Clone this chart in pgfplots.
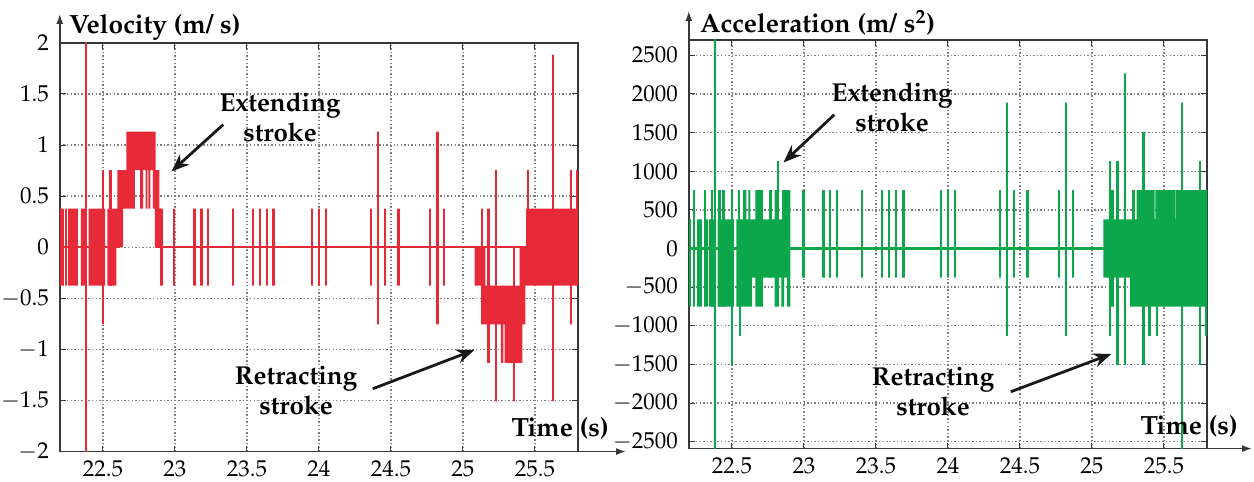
\documentclass[border=0pt]{standalone}
\usepackage[T1]{fontenc}
\usepackage{mathpazo}
\usepackage{pgfplots}
\pgfplotsset{compat=1.18}
\usetikzlibrary{arrows.meta}
\definecolor{vred}{RGB}{231,41,56}
\definecolor{agreen}{RGB}{12,166,75}
\definecolor{axgray}{RGB}{55,55,55}
\pgfplotsset{
  mystyle/.style={
    scale only axis, width=260pt, height=205pt,
    xmin=22.2, xmax=25.8,
    xtick={22.5,23,23.5,24,24.5,25,25.5},
    axis line style={line width=0.9pt, axgray},
    tick style={line width=0.5pt, axgray},
    major tick length=3pt,
    tick align=inside,
    tick label style={font=\fontsize{11.5}{13}\selectfont},
    yticklabel style={inner xsep=0.5pt, xshift=-4.8pt},
    xticklabel style={inner ysep=0.5pt, yshift=-4pt},
    /pgf/number format/1000 sep={},
    scaled ticks=false,
    unbounded coords=jump,
    clip=true,
    xmajorgrids=true, ymajorgrids=true,
    major grid style={dash pattern=on 0.7pt off 1.1pt, line width=0.7pt, black!50},
  }
}
\pgfplotstableread{
x y
22.346 -0.377
22.380 -0.377
22.380 0.377
22.346 0.377
nan nan
22.400 -0.377
22.515 -0.377
22.515 0.377
22.400 0.377
nan nan
22.530 -0.377
22.594 -0.377
22.594 0.377
22.530 0.377
nan nan
22.594 0
22.640 0
22.640 0.377
22.594 0.377
nan nan
22.600 0.377
22.721 0.377
22.721 0.754
22.600 0.754
nan nan
22.663 0.754
22.866 0.754
22.866 1.131
22.663 1.131
nan nan
22.758 0.377
22.779 0.377
22.779 0.754
22.758 0.754
nan nan
22.797 0.377
22.808 0.377
22.808 0.754
22.797 0.754
nan nan
22.815 0.377
22.829 0.377
22.829 0.754
22.815 0.754
nan nan
22.846 0.377
22.892 0.377
22.892 0.754
22.846 0.754
nan nan
22.860 0
22.908 0
22.908 0.377
22.860 0.377
nan nan
25.082 0
25.156 0
25.156 -0.377
25.082 -0.377
nan nan
25.126 -0.377
25.434 -0.377
25.434 -0.754
25.126 -0.754
nan nan
25.263 -0.754
25.280 -0.754
25.280 -1.131
25.263 -1.131
nan nan
25.290 -0.754
25.412 -0.754
25.412 -1.131
25.290 -1.131
nan nan
25.394 0
25.445 0
25.445 -0.377
25.394 -0.377
nan nan
25.438 0.377
25.800 0.377
25.800 -0.377
25.438 -0.377
}\velfill
\pgfplotstableread{
x y
22.200 0
22.209 0
22.209 0.377
22.209 -0.377
22.209 0
22.223 0
22.223 0.377
22.223 -0.377
22.223 0
22.242 0
22.242 0.377
22.242 -0.377
22.242 0
22.267 0
22.267 0.377
22.267 -0.377
22.267 0
22.281 0
22.281 0.377
22.281 -0.377
22.281 0
22.302 0
22.302 0.377
22.302 -0.377
22.302 0
22.320 0
22.320 0.377
22.320 -0.377
22.320 0
22.383 0
22.383 2.5
22.383 -2.5
22.383 0
22.501 0
22.501 0.754
22.501 -0.754
22.501 0
22.552 0
22.552 0.754
22.552 -0.377
22.552 0
22.620 0
nan nan
22.862 0
22.906 0
22.906 0.377
22.906 -0.377
22.906 0
22.994 0
22.994 0.377
22.994 -0.377
22.994 0
23.137 0
23.137 0.377
23.137 -0.377
23.137 0
23.184 0
23.184 0.377
23.184 -0.377
23.184 0
23.230 0
23.230 0.377
23.230 -0.377
23.230 0
23.404 0
23.404 0.377
23.404 -0.377
23.404 0
23.543 0
23.543 0.377
23.543 -0.377
23.543 0
23.589 0
23.589 0.377
23.589 -0.377
23.589 0
23.640 0
23.640 0.377
23.640 -0.377
23.640 0
23.686 0
23.686 0.377
23.686 -0.377
23.686 0
23.952 0
23.952 0.377
23.952 -0.377
23.952 0
24.000 0
24.000 0.377
24.000 -0.377
24.000 0
24.049 0
24.049 0.377
24.049 -0.377
24.049 0
24.362 0
24.362 0.377
24.362 -0.377
24.362 0
24.410 0
24.410 1.131
24.410 -0.754
24.410 0
24.459 0
24.459 0.377
24.459 -0.377
24.459 0
24.554 0
24.554 0.377
24.554 -0.377
24.554 0
24.772 0
24.772 0.377
24.772 -0.377
24.772 0
24.822 0
24.822 1.131
24.822 -0.754
24.822 0
24.869 0
24.869 0.377
24.869 -0.377
24.869 0
25.133 0
25.133 0.377
25.133 0
25.179 0
25.179 0.377
25.179 -1.131
25.179 0
25.230 0
25.230 0.754
25.230 -1.508
25.230 0
25.353 0
25.353 -1.508
25.353 0
25.452 0
25.452 0.754
25.452 0
25.626 0
25.626 1.885
25.626 -1.508
25.626 0
25.751 0
25.751 0.754
25.751 -0.754
25.751 0
25.796 0
25.796 0.754
25.796 -0.377
25.796 0
25.800 0
}\velline
\pgfplotstableread{
x y
22.339 -754
22.378 -754
22.378 377
22.339 377
nan nan
22.400 -754
22.513 -754
22.513 377
22.400 377
nan nan
22.531 -754
22.640 -754
22.640 377
22.531 377
nan nan
22.640 -377
22.906 -377
22.906 377
22.640 377
nan nan
22.663 -754
22.714 -754
22.714 754
22.663 754
nan nan
22.797 -754
22.825 -754
22.825 754
22.797 754
nan nan
22.848 377
22.906 377
22.906 754
22.848 754
nan nan
22.843 -754
22.862 -754
22.862 -377
22.843 -377
nan nan
22.883 -754
22.906 -754
22.906 -377
22.883 -377
nan nan
22.577 377
22.600 377
22.600 754
22.577 754
nan nan
22.613 377
22.628 377
22.628 754
22.613 754
nan nan
25.080 -377
25.265 -377
25.265 377
25.080 377
nan nan
25.265 -754
25.800 -754
25.800 377
25.265 377
nan nan
25.311 377
25.436 377
25.436 754
25.311 754
nan nan
25.441 377
25.575 377
25.575 754
25.441 754
nan nan
25.580 377
25.800 377
25.800 754
25.580 754
}\accfill
\pgfplotstableread{
x y
22.200 0
22.209 0
22.209 377
22.209 -754
22.209 0
22.237 0
22.237 754
22.237 -754
22.237 0
22.267 0
22.267 377
22.267 -754
22.267 0
22.283 0
22.283 377
22.283 -754
22.283 0
22.313 0
22.313 754
22.313 -754
22.313 0
22.328 0
22.328 377
22.328 -754
22.328 0
22.360 0
22.360 754
22.360 -754
22.360 0
22.381 0
22.381 3000
22.381 -3000
22.381 0
22.413 0
22.413 754
22.413 -754
22.413 0
22.440 0
22.440 754
22.440 -754
22.440 0
22.501 0
22.501 754
22.501 -1508
22.501 0
22.549 0
22.549 754
22.549 -754
22.549 0
22.556 0
22.556 377
22.556 -1131
22.556 0
22.767 0
22.767 754
22.767 -377
22.767 0
22.820 0
22.820 1131
22.820 -377
22.820 0
22.996 0
22.996 754
22.996 -377
22.996 0
23.135 0
23.135 754
23.135 -377
23.135 0
23.181 0
23.181 754
23.181 -377
23.181 0
23.230 0
23.230 754
23.230 -377
23.230 0
23.404 0
23.404 754
23.404 -377
23.404 0
23.543 0
23.543 754
23.543 -377
23.543 0
23.591 0
23.591 754
23.591 -377
23.591 0
23.638 0
23.638 754
23.638 -377
23.638 0
23.691 0
23.691 754
23.691 -377
23.691 0
23.950 0
23.950 754
23.950 -377
23.950 0
24.001 0
24.001 754
24.001 -377
24.001 0
24.049 0
24.049 754
24.049 -377
24.049 0
24.362 0
24.362 754
24.362 -377
24.362 0
24.410 0
24.410 1887
24.410 -1131
24.410 0
24.457 0
24.457 754
24.457 -377
24.457 0
24.552 0
24.552 754
24.552 -377
24.552 0
24.772 0
24.772 754
24.772 -377
24.772 0
24.820 0
24.820 1887
24.820 -1131
24.820 0
24.869 0
24.869 754
24.869 -377
24.869 0
25.126 0
25.126 1131
25.126 -1131
25.126 0
25.144 0
25.144 754
25.144 -754
25.144 0
25.179 0
25.179 1131
25.179 -1508
25.179 0
25.230 0
25.230 2265
25.230 -1508
25.230 0
25.288 0
25.288 754
25.288 -377
25.288 0
25.357 0
25.357 1508
25.357 -1508
25.357 0
25.401 0
25.401 377
25.401 -1131
25.401 0
25.450 0
25.450 754
25.450 -1131
25.450 0
25.626 0
25.626 1887
25.626 -3000
25.626 0
25.751 0
25.751 1131
25.751 -1508
25.751 0
25.796 0
25.796 754
25.796 -1131
25.796 0
25.800 0
}\accline
\begin{document}
\begin{tikzpicture}
% ---------------- velocity ----------------
\begin{axis}[mystyle, name=v, at={(0pt,0pt)}, anchor=south west,
  ymin=-2, ymax=2, ytick={-2,-1.5,-1,-0.5,0,0.5,1,1.5,2}]
\addplot[draw=none, fill=vred] table {\velfill};
\addplot[vred, line width=1.25pt] table {\velline};
\end{axis}
% ---------------- acceleration ----------------
\begin{axis}[mystyle, name=a, at={(315.5pt,1.5pt)}, anchor=south west,
  ymin=-2590, ymax=2700, ytick={-2500,-2000,-1500,-1000,-500,0,500,1000,1500,2000,2500}]
\addplot[draw=none, fill=agreen] table {\accfill};
\addplot[agreen, line width=1.25pt] table {\accline};
\end{axis}
% axis arrows
\draw[axgray, line width=0.8pt, -{Latex[length=5pt,width=3.5pt]}] (0pt,204pt) -- (0pt,219.5pt);
\draw[axgray, line width=0.8pt, -{Latex[length=5pt,width=3.5pt]}] (259pt,0pt) -- (284pt,0pt);
\draw[axgray, line width=0.8pt, -{Latex[length=5pt,width=3.5pt]}] (315.5pt,205.5pt) -- (315.5pt,221pt);
\draw[axgray, line width=0.8pt, -{Latex[length=5pt,width=3.5pt]}] (574.5pt,1.5pt) -- (598pt,1.5pt);
% labels
\node[anchor=west, inner sep=0pt, font=\fontsize{13.2}{15}\selectfont\bfseries] at (4.5pt,213pt) {Velocity (m/ s)};
\node[anchor=west, inner sep=0pt, font=\fontsize{13.2}{15}\selectfont\bfseries] at (321pt,215pt) {Acceleration (m/ s\textsuperscript{2})};
\node[inner sep=0pt, font=\fontsize{13.2}{15}\selectfont\bfseries] at (251pt,11.5pt) {Time (s)};
\node[inner sep=0pt, font=\fontsize{13.2}{15}\selectfont\bfseries] at (566.5pt,12.5pt) {Time (s)};
% annotations
\node[inner sep=0pt, align=center, font=\fontsize{13}{15}\selectfont\bfseries] at (110.5pt,167.5pt) {Extending\\stroke};
\draw[black!90, line width=1.4pt, -{Stealth[length=9pt,width=7pt]}] (82pt,164pt) -- (56pt,140.5pt);
\node[inner sep=0pt, align=center, font=\fontsize{13}{15}\selectfont\bfseries] at (118.5pt,30.5pt) {Retracting\\stroke};
\draw[black!90, line width=1.4pt, -{Stealth[length=9pt,width=7pt]}] (157pt,31.5pt) -- (208pt,51pt);
\node[inner sep=0pt, align=center, font=\fontsize{13}{15}\selectfont\bfseries] at (417.5pt,172.5pt) {Extending\\stroke};
\draw[black!90, line width=1.4pt, -{Stealth[length=9pt,width=7pt]}] (388.5pt,169pt) -- (363pt,145pt);
\node[inner sep=0pt, align=center, font=\fontsize{13}{15}\selectfont\bfseries] at (438pt,30pt) {Retracting\\stroke};
\draw[black!90, line width=1.4pt, -{Stealth[length=9pt,width=7pt]}] (477pt,30pt) -- (527.5pt,49pt);
% page frame with the reference's proportions
\path (-28pt,-15pt) rectangle (599pt,226.5pt);
\end{tikzpicture}
\end{document}
